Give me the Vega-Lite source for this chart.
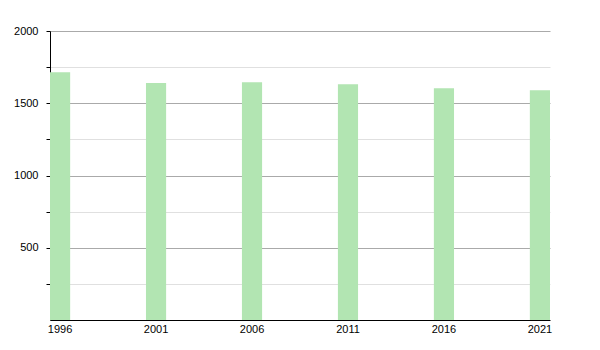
{
  "$schema": "https://vega.github.io/schema/vega-lite/v6.json",
  "autosize": "none",
  "width": 500,
  "height": 289,
  "padding": {"left": 50, "top": 31, "right": 50, "bottom": 30},
  "background": "white",
  "config": {"view": {"stroke": null}, "font": "Liberation Sans"},
  "data": {
    "values": [
      {"year": "1996", "population": 1714},
      {"year": "2001", "population": 1640},
      {"year": "2006", "population": 1645},
      {"year": "2011", "population": 1631},
      {"year": "2016", "population": 1603},
      {"year": "2021", "population": 1590}
    ]
  },
  "mark": {"type": "bar", "color": "#b2e5b2"},
  "encoding": {
    "x": {
      "field": "year",
      "type": "ordinal",
      "scale": {"paddingInner": 0.79, "paddingOuter": 0},
      "axis": {
        "title": null,
        "labelAngle": 0,
        "ticks": false,
        "labelPadding": 3,
        "labelFontSize": 11,
        "labelColor": "#000",
        "domainColor": "#000",
        "domainWidth": 1
      }
    },
    "y": {
      "field": "population",
      "type": "quantitative",
      "scale": {"domain": [0, 2000], "nice": false},
      "axis": {
        "title": null,
        "values": [250, 500, 750, 1000, 1250, 1500, 1750, 2000],
        "labelExpr": "datum.value % 500 === 0 ? datum.label : ''",
        "format": "d",
        "grid": true,
        "gridColor": {"condition": {"test": "datum.value % 500 === 0", "value": "#aaaaaa"}, "value": "#e0e0e0"},
        "tickColor": "#000",
        "tickSize": 4,
        "labelPadding": 8,
        "labelFontSize": 11,
        "labelColor": "#000",
        "domainColor": "#000",
        "domainWidth": 1
      }
    }
  }
}
